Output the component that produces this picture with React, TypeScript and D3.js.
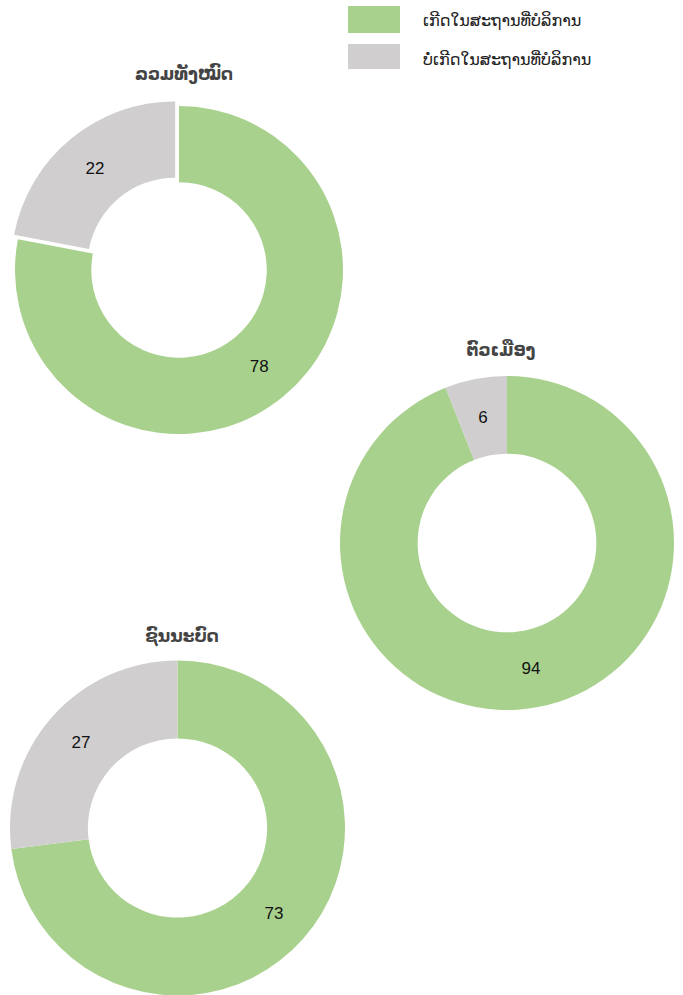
import React from 'react';
import * as d3 from 'd3';

// Data
const seriesNames = ['ເກີດໃນສະຖານທີ່ບໍລິການ', 'ບໍ່ເກີດໃນສະຖານທີ່ບໍລິການ'];
const chartTitles = ['ລວມທັງໝົດ', 'ຕົວເມືອງ', 'ຊົນນະບົດ'];
const inFacility = [78, 94, 73];
const notInFacility = [22, 6, 27];
const explodeSecond = [true, false, false];

const colors = ['#a9d18e', '#d0cecf'];
const width = 683;
const height = 995;

const layout = [
  { cx: 179, cy: 270, r: 164, tx: 184, ty: 80 },
  { cx: 507, cy: 543, r: 167, tx: 501, ty: 356 },
  { cx: 177.5, cy: 828, r: 167.5, tx: 182, ty: 642 },
];

const Donut = ({ idx }: { idx: number }) => {
  const { cx, cy, r, tx, ty } = layout[idx];
  const values = [inFacility[idx], notInFacility[idx]];
  const pie = d3.pie<number>().sort(null)(values);
  const inner = r * 0.535;
  const arc = d3.arc<d3.PieArcDatum<number>>().innerRadius(inner).outerRadius(r);

  return (
    <g>
      <text
        x={tx}
        y={ty}
        textAnchor="middle"
        fontSize={17}
        fontWeight="bold"
        fill="#444"
        fontFamily="'Noto Sans', 'DejaVu Sans', sans-serif"
      >
        {chartTitles[idx]}
      </text>
      <g transform={`translate(${cx},${cy})`}>
        {pie.map((d, i) => {
          const mid = (d.startAngle + d.endAngle) / 2;
          const off = i === 1 && explodeSecond[idx] ? 6 : 0;
          const dx = Math.sin(mid) * off;
          const dy = -Math.cos(mid) * off;
          const [lx, ly] = arc.centroid(d);
          return (
            <g key={i} transform={`translate(${dx},${dy})`}>
              <path d={arc(d) || ''} fill={colors[i]} />
              <text
                x={lx}
                y={ly}
                textAnchor="middle"
                dominantBaseline="central"
                fontSize={17}
                fill="#111"
                fontFamily="'Liberation Sans', Arial, sans-serif"
              >
                {d.data}
              </text>
            </g>
          );
        })}
      </g>
    </g>
  );
};

const App = () => {
  return (
    <svg
      width={width}
      height={height}
      style={{ position: 'absolute', left: 0, top: 0, background: '#fff' }}
    >
      {/* Legend */}
      {seriesNames.map((name, i) => (
        <g key={name}>
          <rect x={348} y={i === 0 ? 6 : 44} width={52} height={i === 0 ? 27 : 25} fill={colors[i]} />
          <text
            x={423}
            y={i === 0 ? 26 : 65}
            fontSize={16}
            fill="#222"
            fontFamily="'Noto Sans', 'DejaVu Sans', sans-serif"
          >
            {name}
          </text>
        </g>
      ))}
      {chartTitles.map((_, i) => (
        <Donut key={i} idx={i} />
      ))}
    </svg>
  );
};

export default App;
